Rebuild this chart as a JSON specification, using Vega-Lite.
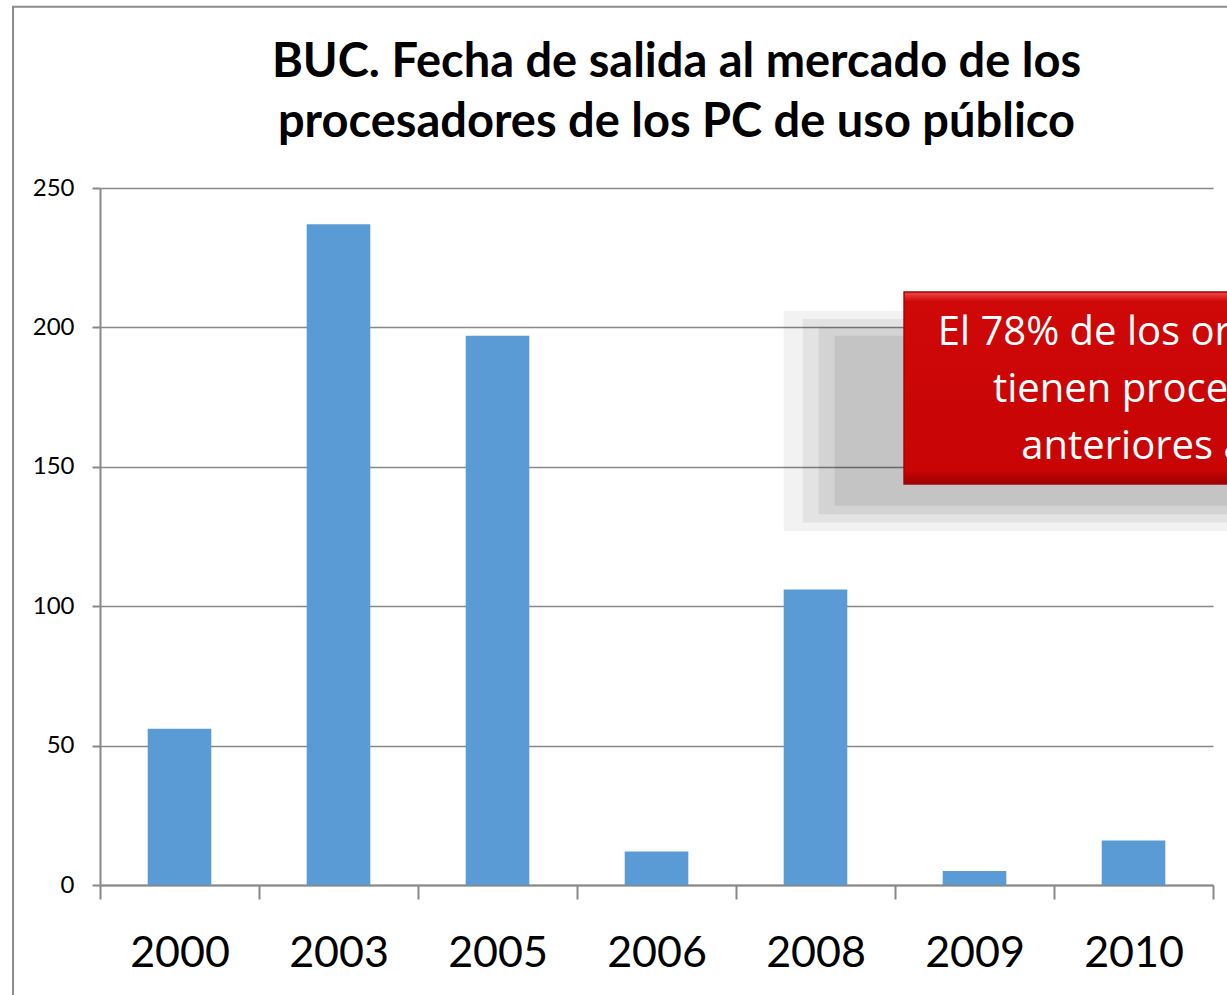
{
  "$schema": "https://vega.github.io/schema/vega-lite/v6.json",
  "width": 1113,
  "height": 697,
  "autosize": {"type": "none"},
  "padding": {"left": 100, "top": 188, "right": 14, "bottom": 110},
  "background": "white",
  "config": {
    "view": {"stroke": null},
    "font": "Lato",
    "axis": {"labelFont": "Lato", "labelColor": "#000000", "domainColor": "#888888", "tickColor": "#888888", "domainWidth": 2, "tickWidth": 2, "gridColor": "#888888", "gridWidth": 1.5}
  },
  "title": {
    "text": ["BUC. Fecha de salida al mercado de los", "procesadores de los PC de uso público"],
    "font": "Lato",
    "fontSize": 47,
    "fontWeight": "bold",
    "color": "#000000",
    "lineHeight": 60,
    "anchor": "middle",
    "frame": "group",
    "dx": 20,
    "baseline": "bottom",
    "offset": -188
  },
  "resolve": {"scale": {"x": "independent"}, "axis": {"x": "independent"}},
  "layer": [
    {
      "data": {"values": [
        {"year": "2000", "count": 56},
        {"year": "2003", "count": 237},
        {"year": "2005", "count": 197},
        {"year": "2006", "count": 12},
        {"year": "2008", "count": 106},
        {"year": "2009", "count": 5},
        {"year": "2010", "count": 16}
      ]},
      "mark": {"type": "bar", "color": "#5B9BD5", "width": {"band": 0.4}},
      "encoding": {
        "x": {"field": "year", "type": "nominal", "sort": null,
              "scale": {"paddingInner": 0, "paddingOuter": 0},
              "axis": {"title": null, "labelAngle": 0, "labelFontSize": 43, "tickBand": "extent", "tickSize": 14, "labelPadding": 33}},
        "y": {"field": "count", "type": "quantitative",
              "scale": {"domain": [0, 250], "nice": false},
              "axis": {"title": null, "values": [0, 50, 100, 150, 200, 250], "labelFontSize": 24, "tickSize": 8, "labelPadding": 18, "grid": true}}
      }
    },
    {
      "data": {"values": [{"kind": "frame"}]},
      "mark": {"type": "rect", "fill": null, "stroke": "#8c8c8c", "strokeWidth": 2},
      "encoding": {
        "x": {"datum": -0.547, "type": "quantitative", "scale": {"domain": [0, 7]}, "axis": null},
        "x2": {"datum": 9},
        "y": {"datum": 315, "type": "quantitative", "scale": {"domain": [0, 250], "nice": false}},
        "y2": {"datum": -60}
      }
    },
    {
      "data": {"values": [{"s": 1}]},
      "mark": {"type": "rect", "fill": "#000000", "opacity": 0.05},
      "encoding": {
        "x": {"datum": 4.3, "type": "quantitative", "scale": {"domain": [0, 7]}, "axis": null},
        "x2": {"datum": 8.8},
        "y": {"datum": 206, "type": "quantitative", "scale": {"domain": [0, 250], "nice": false}},
        "y2": {"datum": 127}
      }
    },
    {
      "data": {"values": [{"s": 2}]},
      "mark": {"type": "rect", "fill": "#000000", "opacity": 0.06},
      "encoding": {
        "x": {"datum": 4.42, "type": "quantitative", "scale": {"domain": [0, 7]}, "axis": null},
        "x2": {"datum": 8.8},
        "y": {"datum": 203, "type": "quantitative", "scale": {"domain": [0, 250], "nice": false}},
        "y2": {"datum": 130}
      }
    },
    {
      "data": {"values": [{"s": 3}]},
      "mark": {"type": "rect", "fill": "#000000", "opacity": 0.07},
      "encoding": {
        "x": {"datum": 4.52, "type": "quantitative", "scale": {"domain": [0, 7]}, "axis": null},
        "x2": {"datum": 8.8},
        "y": {"datum": 200, "type": "quantitative", "scale": {"domain": [0, 250], "nice": false}},
        "y2": {"datum": 133}
      }
    },
    {
      "data": {"values": [{"s": 4}]},
      "mark": {"type": "rect", "fill": "#000000", "opacity": 0.07},
      "encoding": {
        "x": {"datum": 4.62, "type": "quantitative", "scale": {"domain": [0, 7]}, "axis": null},
        "x2": {"datum": 8.8},
        "y": {"datum": 197, "type": "quantitative", "scale": {"domain": [0, 250], "nice": false}},
        "y2": {"datum": 136}
      }
    },
    {
      "data": {"values": [{"s": 5}]},
      "mark": {"type": "rect", "stroke": "#a80000", "strokeWidth": 1.5,
               "fill": {"gradient": "linear", "x1": 0, "y1": 0, "x2": 0, "y2": 1,
                        "stops": [{"offset": 0, "color": "#f04848"}, {"offset": 0.05, "color": "#cf0808"}, {"offset": 0.93, "color": "#c80404"}, {"offset": 1, "color": "#9c0000"}]}},
      "encoding": {
        "x": {"datum": 5.057, "type": "quantitative", "scale": {"domain": [0, 7]}, "axis": null},
        "x2": {"datum": 8.6},
        "y": {"datum": 212.7, "type": "quantitative", "scale": {"domain": [0, 250], "nice": false}},
        "y2": {"datum": 143.8}
      }
    },
    {
      "data": {"values": [{"label": "El 78% de los ordenadores\ntienen procesadores\nanteriores a 2008"}]},
      "mark": {"type": "text", "color": "#ffffff", "fontSize": 40, "font": "Open Sans", "lineHeight": 57, "lineBreak": "\n", "align": "center", "baseline": "middle"},
      "encoding": {
        "x": {"datum": 6.82, "type": "quantitative", "scale": {"domain": [0, 7]}, "axis": null},
        "y": {"datum": 198, "type": "quantitative", "scale": {"domain": [0, 250], "nice": false}},
        "text": {"field": "label"}
      }
    }
  ]
}
